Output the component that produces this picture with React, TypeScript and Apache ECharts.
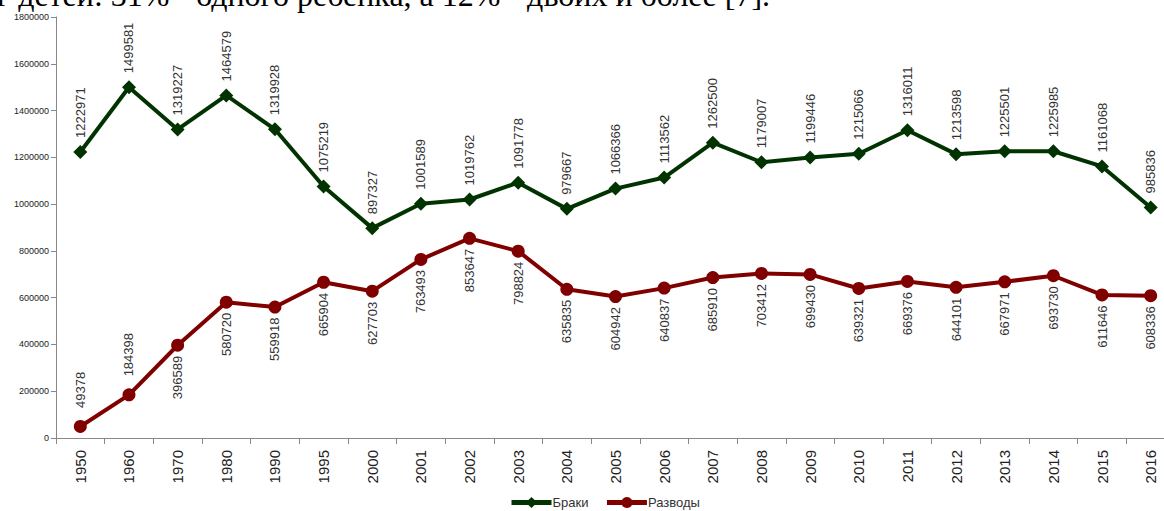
import React, { useEffect, useRef } from "react";
import * as echarts from "echarts";

const years = ["1950","1960","1970","1980","1990","1995","2000","2001","2002","2003","2004","2005","2006","2007","2008","2009","2010","2011","2012","2013","2014","2015","2016"];
const marriages = [1222971,1499581,1319227,1464579,1319928,1075219,897327,1001589,1019762,1091778,979667,1066366,1113562,1262500,1179007,1199446,1215066,1316011,1213598,1225501,1225985,1161068,985836];
const divorces = [49378,184398,396589,580720,559918,665904,627703,763493,853647,798824,635835,604942,640837,685910,703412,699430,639321,669376,644101,667971,693730,611646,608336];
const divorcesLabelAbove = ["1950","1960"];
const yTicks = { min: 0, max: 1800000, interval: 200000 };
const headerText = "г детей: 31% - одного ребенка, а 12% - двоих и более [7].";
const seriesNames = ["Браки", "Разводы"];

export default function App() {
  const ref = useRef<HTMLDivElement>(null);
  useEffect(() => {
    if (!ref.current) return;
    const chart = echarts.init(ref.current, undefined, { renderer: "svg" });
    const green = "#003300";
    const red = "#800000";
    const labelColor = "#333";
    chart.setOption({
      animation: false,
      textStyle: { fontFamily: "Arial, 'Liberation Sans', sans-serif" },
      graphic: [
        {
          type: "text",
          x: -3,
          y: -5,
          silent: true,
          style: {
            text: headerText,
            fontSize: 32,
            fontFamily: "'Liberation Serif', serif",
            fill: "#000",
            verticalAlign: "middle",
          },
        },
      ],
      legend: {
        left: 504,
        top: 491,
        itemWidth: 40,
        itemHeight: 14,
        itemGap: 16,
        lineStyle: { width: 5 },
        textStyle: { fontSize: 13, color: "#333", padding: [0, 0, 0, -4] },
        data: seriesNames,
      },
      grid: { left: 56, right: 15, top: 17, bottom: 73, containLabel: false },
      xAxis: {
        type: "category",
        data: years,
        boundaryGap: true,
        axisLine: { lineStyle: { color: "#888", width: 1 } },
        axisTick: { show: true, length: 6, alignWithLabel: false, lineStyle: { color: "#888" } },
        axisLabel: { rotate: 90, fontSize: 15, color: "#222", margin: 12, interval: 0 },
        splitLine: { show: false },
      },
      yAxis: {
        type: "value",
        min: yTicks.min,
        max: yTicks.max,
        interval: yTicks.interval,
        axisLine: { show: true, lineStyle: { color: "#888", width: 1 } },
        axisTick: { show: true, length: 5, lineStyle: { color: "#888" } },
        axisLabel: { fontSize: 9, color: "#222", margin: 7, formatter: (v: number) => String(v) },
        splitLine: { show: false },
      },
      series: [
        {
          name: seriesNames[0],
          type: "line",
          data: marriages,
          symbol: "diamond",
          symbolSize: 14,
          itemStyle: { color: green },
          lineStyle: { color: green, width: 4 },
          label: {
            show: true,
            position: "top",
            rotate: 90,
            align: "left",
            verticalAlign: "middle",
            distance: 7,
            fontSize: 13,
            color: labelColor,
          },
        },
        {
          name: seriesNames[1],
          type: "line",
          symbol: "circle",
          symbolSize: 13,
          itemStyle: { color: red },
          lineStyle: { color: red, width: 4 },
          data: divorces.map((v, i) =>
            divorcesLabelAbove.includes(years[i])
              ? { value: v, label: { position: "top", align: "left", distance: 12 } }
              : v
          ),
          label: {
            show: true,
            position: "bottom",
            rotate: 90,
            align: "right",
            verticalAlign: "middle",
            distance: 4,
            fontSize: 13,
            color: labelColor,
          },
        },
      ],
    });
    return () => chart.dispose();
  }, []);
  return (
    <div style={{ position: "fixed", left: 0, top: 0, width: 1164, height: 511, overflow: "hidden", background: "#fff" }}>
      <div ref={ref} style={{ width: 1190, height: 511 }} />
    </div>
  );
}
